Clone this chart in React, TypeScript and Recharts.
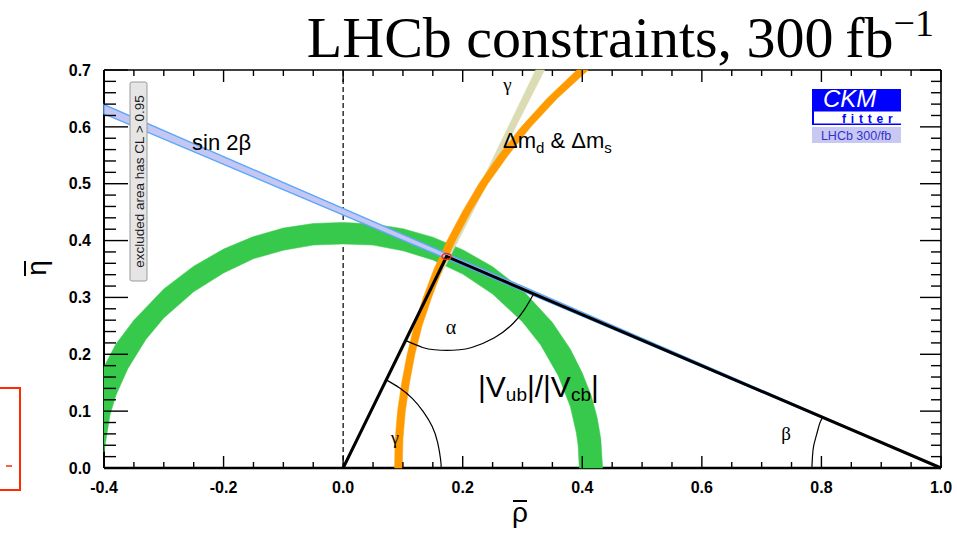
import React from 'react';
import { ScatterChart, Scatter, XAxis, YAxis, ReferenceLine } from 'recharts';

// ---------- axis ticks ----------
const X_MAJOR_TICKS = [-0.4, -0.2, 0.0, 0.2, 0.4, 0.6, 0.8, 1.0];
const X_TICK_LABELS = ['-0.4', '-0.2', '0.0', '0.2', '0.4', '0.6', '0.8', '1.0'];
const X_MINOR_TICKS = [-0.35, -0.3, -0.25, -0.15, -0.1, -0.05, 0.05, 0.1, 0.15, 0.25, 0.3, 0.35, 0.45, 0.5, 0.55, 0.65, 0.7, 0.75, 0.85, 0.9, 0.95];
const Y_MAJOR_TICKS = [0.0, 0.1, 0.2, 0.3, 0.4, 0.5, 0.6, 0.7];
const Y_TICK_LABELS = ['0.0', '0.1', '0.2', '0.3', '0.4', '0.5', '0.6', '0.7'];
const Y_MINOR_TICKS = [0.02, 0.04, 0.06, 0.08, 0.12, 0.14, 0.16, 0.18, 0.22, 0.24, 0.26, 0.28, 0.32, 0.34, 0.36, 0.38, 0.42, 0.44, 0.46, 0.48, 0.52, 0.54, 0.56, 0.58, 0.62, 0.64, 0.66, 0.68];
const RHO_MIN = -0.4;
const RHO_MAX = 1.0;
const ETA_MIN = 0.0;
const ETA_MAX = 0.7;

// ---------- constraint bands [rho, eta] ----------
// |Vub|/|Vcb| annulus: outer edge (left -> right), inner edge (right -> left)
const VUB_OUTER_EDGE: [number, number][] = [
  [-0.4, 0.178], [-0.38, 0.218], [-0.35, 0.26], [-0.3, 0.315], [-0.25, 0.355], [-0.2, 0.385],
  [-0.15, 0.407], [-0.1, 0.422], [-0.05, 0.43], [0.0, 0.432], [0.05, 0.429], [0.1, 0.421],
  [0.15, 0.406], [0.2, 0.384], [0.25, 0.354], [0.3, 0.313], [0.35, 0.256], [0.38, 0.209],
  [0.4, 0.167], [0.415, 0.127], [0.425, 0.088], [0.431, 0.051], [0.434, 0.0],
];
const VUB_INNER_EDGE: [number, number][] = [
  [0.395, 0.0], [0.393, 0.04], [0.39, 0.062], [0.38, 0.108], [0.36, 0.162], [0.33, 0.217],
  [0.3, 0.257], [0.25, 0.306], [0.2, 0.341], [0.15, 0.366], [0.1, 0.382], [0.05, 0.392],
  [0.0, 0.394], [-0.05, 0.392], [-0.1, 0.383], [-0.15, 0.368], [-0.2, 0.343], [-0.25, 0.31],
  [-0.3, 0.264], [-0.33, 0.226], [-0.36, 0.175], [-0.38, 0.128], [-0.39, 0.093], [-0.4, 0.028],
];
// Delta m_d & Delta m_s band: left edge (bottom -> top), right edge (top -> bottom)
const DM_LEFT_EDGE: [number, number][] = [
  [0.086, 0.0], [0.087, 0.05], [0.091, 0.1], [0.098, 0.15], [0.107, 0.2], [0.119, 0.25],
  [0.134, 0.3], [0.152, 0.35], [0.174, 0.4], [0.199, 0.45], [0.227, 0.5], [0.26, 0.55],
  [0.298, 0.6], [0.341, 0.65], [0.391, 0.7],
];
const DM_RIGHT_EDGE: [number, number][] = [
  [0.41, 0.7], [0.358, 0.65], [0.314, 0.6], [0.276, 0.55], [0.242, 0.5], [0.213, 0.45],
  [0.188, 0.4], [0.166, 0.35], [0.148, 0.3], [0.132, 0.25], [0.12, 0.2], [0.111, 0.15],
  [0.104, 0.1], [0.1, 0.05], [0.099, 0.0],
];
// gamma band (wedge from the origin)
const GAMMA_BAND: [number, number][] = [[0.0, 0.0], [0.322, 0.7], [0.337, 0.7]];
// sin 2beta band (wedge from (1,0))
const SIN2B_BAND: [number, number][] = [[1.0, 0.0], [-0.4, 0.623], [-0.4, 0.639]];
// unitarity triangle
const TRIANGLE: [number, number][] = [[0.0, 0.0], [0.173, 0.372], [1.0, 0.0]];
const APEX: [number, number][] = [[0.173, 0.372]];
// angle arcs
const ALPHA_ARC: [number, number][] = [
  [0.105, 0.224], [0.133, 0.212], [0.153, 0.208], [0.174, 0.207], [0.195, 0.208],
  [0.215, 0.212], [0.253, 0.229], [0.285, 0.255], [0.304, 0.28], [0.319, 0.307],
];
const GAMMA_ARC: [number, number][] = [
  [0.072, 0.155], [0.094, 0.141], [0.116, 0.122], [0.134, 0.099], [0.149, 0.073],
  [0.158, 0.045], [0.163, 0.015], [0.164, 0.0],
];
const BETA_ARC: [number, number][] = [
  [0.784, 0.0], [0.785, 0.02], [0.787, 0.039], [0.792, 0.059], [0.797, 0.078], [0.802, 0.089],
];

const toPts = (a: [number, number][]) => a.map(([x, y]) => ({ x, y }));

const P_VUB = toPts([...VUB_OUTER_EDGE, ...VUB_INNER_EDGE]);
const P_GAMMA = toPts(GAMMA_BAND);
const P_DM = toPts([...DM_LEFT_EDGE, ...DM_RIGHT_EDGE]);
const P_SIN2B = toPts(SIN2B_BAND);
const P_TRI = toPts(TRIANGLE);
const P_ALPHA_ARC = toPts(ALPHA_ARC);
const P_GAMMA_ARC = toPts(GAMMA_ARC);
const P_BETA_ARC = toPts(BETA_ARC);
const P_APEX = toPts(APEX);

// ---------- layout ----------
const CHART_W = 957;
const CHART_H = 538;
const MARGIN = { top: 70, right: 16, bottom: 40, left: 44 };
const X_AXIS_H = 30;
const Y_AXIS_W = 60;
const PLOT_W = CHART_W - MARGIN.left - MARGIN.right - Y_AXIS_W;
const PLOT_H = CHART_H - MARGIN.top - MARGIN.bottom - X_AXIS_H;

const GREEN = '#37c94b';
const ORANGE = '#ff9a00';
const BEIGE = '#dcdcb4';
const BLUE_FILL = '#c4c6f4';
const BLUE_EDGE = '#5aa8f8';
const RED = '#ff2a00';

const FONT_SANS = '"Liberation Sans", Arial, Helvetica, sans-serif';
const FONT_SERIF = '"Liberation Serif", "Times New Roman", serif';

const NoShape = () => <g />;
const ApexMark = (p: any) => (
  <ellipse cx={p.cx} cy={p.cy} rx={4.5} ry={3} fill="none" stroke={RED} strokeWidth={1.5} />
);

// axis tick renderers: label for majors, inward tick marks on both opposite sides
const X_TICK_MARGIN = 14;
const Y_TICK_MARGIN = 13;
const XTick = (p: any) => {
  const v = p.payload?.value;
  const i = X_MAJOR_TICKS.indexOf(v);
  const axisY = p.y - X_TICK_MARGIN;
  const topY = axisY - PLOT_H;
  const len = i >= 0 ? 12 : 6;
  return (
    <g>
      <line x1={p.x} y1={axisY} x2={p.x} y2={axisY - len} stroke="#000" strokeWidth={1.4} />
      <line x1={p.x} y1={topY} x2={p.x} y2={topY + len} stroke="#000" strokeWidth={1.4} />
      {i >= 0 && (
        <text x={p.x} y={p.y} dy="0.71em" textAnchor="middle" fill="#000" fontSize={16} fontWeight={700} fontFamily={FONT_SANS}>
          {X_TICK_LABELS[i]}
        </text>
      )}
    </g>
  );
};
const YTick = (p: any) => {
  const v = p.payload?.value;
  const i = Y_MAJOR_TICKS.indexOf(v);
  const axisX = p.x + Y_TICK_MARGIN;
  const rightX = axisX + PLOT_W;
  return (
    <g>
      <line x1={axisX} y1={p.y} x2={axisX + (i >= 0 ? 24 : 12)} y2={p.y} stroke="#000" strokeWidth={1.4} />
      <line x1={rightX} y1={p.y} x2={rightX - (i >= 0 ? 21 : 10)} y2={p.y} stroke="#000" strokeWidth={1.4} />
      {i >= 0 && (
        <text x={p.x} y={p.y} dy="0.355em" textAnchor="end" fill="#000" fontSize={16} fontWeight={700} fontFamily={FONT_SANS}>
          {Y_TICK_LABELS[i]}
        </text>
      )}
    </g>
  );
};
const X_ALL_TICKS = [...X_MAJOR_TICKS, ...X_MINOR_TICKS].sort((a, b) => a - b);
const Y_ALL_TICKS = [...Y_MAJOR_TICKS, ...Y_MINOR_TICKS].sort((a, b) => a - b);

const LINE_VUB = { fill: GREEN, stroke: GREEN, strokeWidth: 0.5 };
const LINE_GAMMA = { fill: BEIGE, stroke: BEIGE, strokeWidth: 0.5 };
const LINE_DM = { fill: ORANGE, stroke: ORANGE, strokeWidth: 0.5 };
const LINE_SIN2B = { fill: BLUE_FILL, stroke: BLUE_EDGE, strokeWidth: 1.4 };
const LINE_TRI = { fill: 'none', stroke: '#000', strokeWidth: 3 };
const LINE_ARC = { fill: 'none', stroke: '#000', strokeWidth: 1.2 };

export default function App() {
  return (
    <div style={{ position: 'absolute', left: 0, top: 0, width: CHART_W, height: CHART_H, background: '#fff', overflow: 'hidden' }}>
      <ScatterChart width={CHART_W} height={CHART_H} margin={MARGIN}>
        <XAxis type="number" dataKey="x" domain={[RHO_MIN, RHO_MAX]} ticks={X_ALL_TICKS} interval={0}
          tickLine={false} tickSize={0} tickMargin={X_TICK_MARGIN} height={X_AXIS_H}
          axisLine={{ stroke: '#000', strokeWidth: 2.5 }} tick={XTick} />
        <YAxis type="number" dataKey="y" domain={[ETA_MIN, ETA_MAX]} ticks={Y_ALL_TICKS} interval={0}
          tickLine={false} tickSize={0} tickMargin={Y_TICK_MARGIN} width={Y_AXIS_W}
          axisLine={{ stroke: '#000', strokeWidth: 2 }} tick={YTick} />

        <ReferenceLine x={0} stroke="#000" strokeWidth={1.2} strokeDasharray="5 3" />
        <Scatter data={P_VUB} shape={NoShape} isAnimationActive={false} line={LINE_VUB} lineJointType="linearClosed" />
        <Scatter data={P_GAMMA} shape={NoShape} isAnimationActive={false} line={LINE_GAMMA} lineJointType="linearClosed" />
        <Scatter data={P_DM} shape={NoShape} isAnimationActive={false} line={LINE_DM} lineJointType="linearClosed" />
        <Scatter data={P_SIN2B} shape={NoShape} isAnimationActive={false} line={LINE_SIN2B} lineJointType="linearClosed" />
        <Scatter data={P_TRI} shape={NoShape} isAnimationActive={false} line={LINE_TRI} lineJointType="linear" />
        <Scatter data={P_ALPHA_ARC} shape={NoShape} isAnimationActive={false} line={LINE_ARC} lineJointType="natural" />
        <Scatter data={P_GAMMA_ARC} shape={NoShape} isAnimationActive={false} line={LINE_ARC} lineJointType="natural" />
        <Scatter data={P_BETA_ARC} shape={NoShape} isAnimationActive={false} line={LINE_ARC} lineJointType="natural" />
        <Scatter data={P_APEX} shape={ApexMark} isAnimationActive={false} />
        {/* top and right frame */}
        <ReferenceLine y={ETA_MAX} stroke="#000" strokeWidth={1.6} />
        <ReferenceLine x={RHO_MAX} stroke="#000" strokeWidth={1.6} />
      </ScatterChart>

      <svg width={CHART_W} height={CHART_H} style={{ position: 'absolute', left: 0, top: 0, pointerEvents: 'none' }}>
        {/* title */}
        <text x={934} y={57} textAnchor="end" fontFamily={FONT_SERIF} fontSize={58} fill="#000">
          LHCb constraints, 300{'\u2009'}fb<tspan fontSize={38} dy={-21}>−1</tspan>
        </text>
        {/* axis titles (letter plus overbar) */}
        <text x={520} y={522} textAnchor="middle" fontFamily={FONT_SANS} fontSize={28} fill="#000">ρ</text>
        <line x1={513} y1={501} x2={527} y2={501} stroke="#000" strokeWidth={2} />
        <text transform="translate(46,268) rotate(-90)" textAnchor="middle" fontFamily={FONT_SANS} fontSize={28} fill="#000">η</text>
        <line x1={25} y1={261} x2={25} y2={276} stroke="#000" strokeWidth={2} />

        {/* excluded-area note */}
        <rect x={130} y={82} width={17} height={199} rx={2} fill="#e5e5e5" stroke="#9a9a9a" strokeWidth={1} />
        <text transform="translate(143.5,181.5) rotate(-90)" textAnchor="middle" fontFamily={FONT_SANS} fontSize={13.5} fill="#1a1a1a">
          excluded area has CL &gt; 0.95
        </text>

        {/* band labels */}
        <text x={192} y={150} fontFamily={FONT_SANS} fontSize={22} fill="#000">sin 2β</text>
        <text x={503} y={148} fontFamily={FONT_SANS} fontSize={22} fill="#000">
          Δm<tspan fontSize={15} dy={5}>d</tspan><tspan dy={-5}> &amp; Δm</tspan><tspan fontSize={15} dy={5}>s</tspan>
        </text>
        <text x={507.5} y={91} textAnchor="middle" fontFamily={FONT_SERIF} fontSize={19} fill="#000">γ</text>
        <text x={451} y={334} textAnchor="middle" fontFamily={FONT_SERIF} fontSize={20} fill="#000">α</text>
        <text x={395} y={444} textAnchor="middle" fontFamily={FONT_SERIF} fontSize={18} fill="#000">γ</text>
        <text x={786} y={440} textAnchor="middle" fontFamily={FONT_SERIF} fontSize={19} fill="#000">β</text>
        <text x={478} y={397} fontFamily={FONT_SANS} fontSize={30} fill="#000">
          |V<tspan fontSize={19} dy={4}>ub</tspan><tspan dy={-4}>|/|V</tspan><tspan fontSize={19} dy={4}>cb</tspan><tspan dy={-4}>|</tspan>
        </text>

        {/* CKMfitter logo */}
        <rect x={812} y={89} width={89} height={36} fill="#0000ff" />
        <rect x={814} y={111.5} width={87} height={12} fill="#ffffff" />
        <text x={823} y={107} fontFamily={FONT_SANS} fontStyle="italic" fontSize={24} fill="#ffffff">CKM</text>
        <text x={842} y={123} fontFamily={FONT_SANS} fontWeight={700} fontSize={12} letterSpacing={4.8} fill="#0000ff">fitter</text>
        <rect x={812} y={127} width={89} height={16} fill="#c8c8f2" />
        <text x={856} y={140} textAnchor="middle" fontFamily={FONT_SANS} fontSize={12.5} fill="#3333cc">LHCb 300/fb</text>

        {/* red frame fragment at the left edge */}
        <rect x={-10} y={388} width={30} height={102} fill="none" stroke={RED} strokeWidth={2} />
        <line x1={6} y1={466} x2={12} y2={466} stroke={RED} strokeWidth={1.5} />
      </svg>
    </div>
  );
}
